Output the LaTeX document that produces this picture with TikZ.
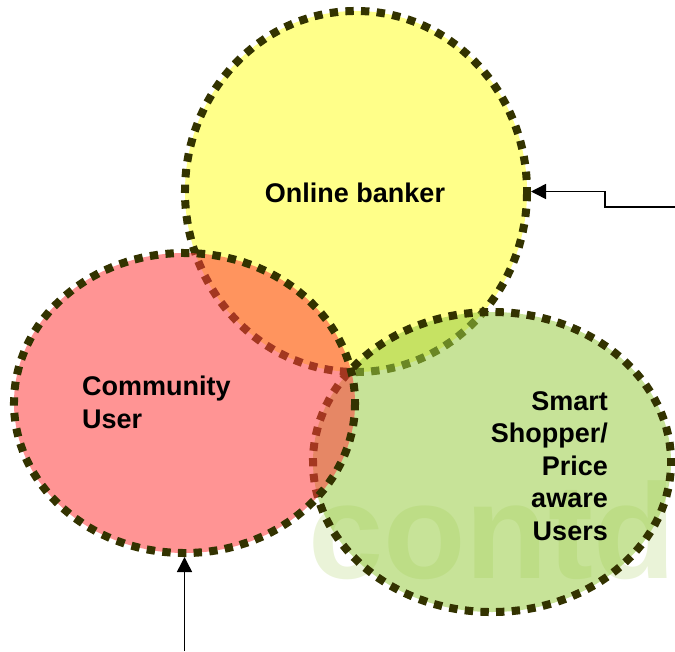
\documentclass[tikz,border=0pt]{standalone}
\usepackage{fontspec}
\setmainfont{Liberation Sans}
\usetikzlibrary{shapes.geometric,arrows.meta,decorations.markings}

\definecolor{rim}{RGB}{51,51,0}
\definecolor{bankfill}{RGB}{255,255,40}
\definecolor{commfill}{RGB}{255,60,60}
\definecolor{shopfill}{RGB}{153,204,68}
\definecolor{wmark}{RGB}{234,243,216}

\begin{document}
\begin{tikzpicture}[x=1pt,y=-1pt,
  % square beads running round a group's border
  beads/.style={postaction={decorate, decoration={markings,
      mark=between positions 0 and 1 step 15.7pt with
        {\fill[rim, fill opacity=1] (-4.2pt,-4pt) rectangle (4.2pt,4pt);}}}},
  zone/.style={ellipse, inner sep=0pt, outer sep=4pt, fill opacity=0.55, beads},
  tag/.style={font=\fontsize{27}{32.5}\selectfont\bfseries, inner sep=0pt, text=black},
  pointer/.style={line width=1.5pt, -{Triangle[length=15pt,width=15pt]}}]

\useasboundingbox (0,0) rectangle (675,651);

% the three user groups, filled translucently so overlaps blend
\node[zone, fill=bankfill, minimum width=342pt, minimum height=361pt] (bank) at (356,191.5) {};

% faint "contd" mark behind the green group
\node[font=\fontsize{135}{135}\selectfont\bfseries, text=wmark, anchor=base west, inner sep=0pt]
  (mark) at (308,578) {contd};

\node[zone, fill=shopfill, minimum width=358pt, minimum height=300pt] (shop) at (492,462) {};
\node[zone, fill=commfill, minimum width=341pt, minimum height=300pt] (comm) at (184.5,403) {};

% group names
\node[tag, anchor=base] (banktxt) at (355,202) {Online banker};
\node[tag, align=left, anchor=north west] (commtxt) at (82,376) {Community\\User};
\node[tag, align=right, anchor=north east] (shoptxt) at (608,391) {Smart\\Shopper/\\Price\\aware\\Users};

% incoming pointers
\coordinate (feedR) at (675,207);
\coordinate (feedB) at (184.5,651);
\draw[pointer] (feedR) -- ++(-70,0) |- (bank.east);
\draw[pointer] (feedB) -- (comm.south);

\end{tikzpicture}
\end{document}
